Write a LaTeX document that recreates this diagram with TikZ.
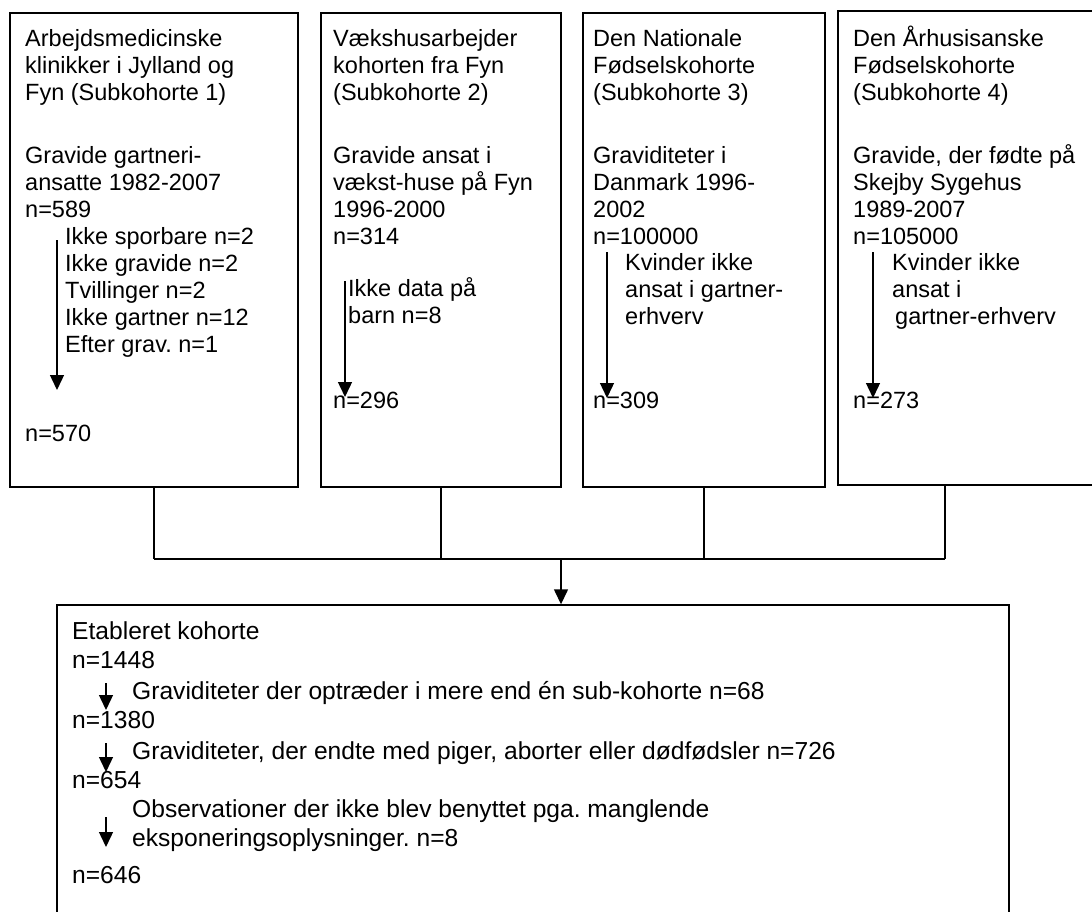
\documentclass[tikz,border=0pt]{standalone}
\usepackage{fontspec}
\setmainfont{Liberation Sans}
\usetikzlibrary{arrows.meta}
\frenchspacing
\newcommand{\topstrut}{\rule{0pt}{23pt}}
\tikzset{
  box/.style={draw, line width=1.4pt, inner sep=0pt},
  txt/.style={anchor=north west, inner sep=0pt, align=left, font=\fontsize{23.5}{27}\selectfont},
  btxt/.style={anchor=north west, inner sep=0pt, align=left, font=\fontsize{24.6}{29.5}\selectfont},
  conn/.style={line width=1.4pt},
  arr/.style={line width=1.4pt, -{Triangle[width=14pt,length=15pt]}},
}
\begin{document}
\frenchspacing
\begin{tikzpicture}[x=1pt,y=-1pt]
\useasboundingbox (0,0) rectangle (1092,912);
\clip (0,0) rectangle (1092,912);
% boxes
\node (b1) [box, minimum width=288pt, minimum height=474pt] at (154,250) {};
\node (b2) [box, minimum width=240pt, minimum height=474pt] at (441,250) {};
\node (b3) [box, minimum width=242pt, minimum height=474pt] at (704,250) {};
\node (b4) [box, minimum width=262pt, minimum height=474pt] at (969,248) {};
\node (bb) [box, minimum width=952pt, minimum height=320pt] at (533,765) {};
% box 1 text
\node (h1) [txt] at (25,23) {\topstrut Arbejdsmedicinske\\klinikker i Jylland og\\Fyn (Subkohorte 1)};
\node (g1) [txt] at (25,140) {\topstrut Gravide gartneri-\\ansatte 1982-2007\\n=589};
\node (e1) [txt] at (65,221) {\topstrut Ikke sporbare n=2\\Ikke gravide n=2\\Tvillinger n=2\\Ikke gartner n=12\\Efter grav. n=1};
\node (r1) [txt] at (25,418) {\topstrut n=570};
% box 2 text
\node (h2) [txt] at (333,23) {\topstrut Vækshusarbejder\\kohorten fra Fyn\\(Subkohorte 2)};
\node (g2) [txt] at (333,140) {\topstrut Gravide ansat i\\vækst-huse på Fyn\\1996-2000\\n=314};
\node (e2) [txt] at (348,273) {\topstrut Ikke data på\\barn n=8};
\node (r2) [txt] at (333,385) {\topstrut n=296};
% box 3 text
\node (h3) [txt] at (593,23) {\topstrut Den Nationale\\Fødselskohorte\\(Subkohorte 3)};
\node (g3) [txt] at (593,140) {\topstrut Graviditeter i\\Danmark 1996-\\2002\\n=100000};
\node (e3) [txt] at (625,247) {\topstrut Kvinder ikke\\ansat i gartner-\\erhverv};
\node (r3) [txt] at (593,385) {\topstrut n=309};
% box 4 text
\node (h4) [txt] at (853,23) {\topstrut Den Århusisanske\\Fødselskohorte\\(Subkohorte 4)};
\node (g4) [txt] at (853,140) {\topstrut Gravide, der fødte på\\Skejby Sygehus\\1989-2007\\n=105000};
\node (e4) [txt] at (892,247) {\topstrut Kvinder ikke\\ansat i\\\hspace{3pt}gartner-erhverv};
\node (r4) [txt] at (853,385) {\topstrut n=273};
% arrows inside top boxes
\coordinate (a1s) at (57,240); \coordinate (a1e) at (57,390);
\coordinate (a2s) at (345,281); \coordinate (a2e) at (345,397);
\coordinate (a3s) at (607,252); \coordinate (a3e) at (607,398);
\coordinate (a4s) at (873,252); \coordinate (a4e) at (873,398);
\draw[arr] (a1s) -- (a1e);
\draw[arr] (a2s) -- (a2e);
\draw[arr] (a3s) -- (a3e);
\draw[arr] (a4s) -- (a4e);
% connectors
\coordinate (j1) at (154,559);
\coordinate (j2) at (441,559);
\coordinate (j3) at (704,559);
\coordinate (j4) at (945,559);
\coordinate (jm) at (561,559);
\draw[conn] (b1.south) -- (j1);
\draw[conn] (b2.south) -- (j2);
\draw[conn] (b3.south) -- (j3);
\draw[conn] (b4.south -| j4) -- (j4);
\draw[conn] (j1) -- (j4);
\draw[arr] (jm) -- (jm |- bb.north);
% bottom box text
\node (t1) [btxt] at (72,616) {\topstrut Etableret kohorte\\n=1448};
\node (t2) [btxt] at (132,676) {\topstrut Graviditeter der optræder i mere end én sub-kohorte n=68};
\node (t3) [btxt] at (72,705) {\topstrut n=1380};
\node (t4) [btxt] at (132,736) {\topstrut Graviditeter, der endte med piger, aborter eller dødfødsler n=726};
\node (t5) [btxt] at (72,765) {\topstrut n=654};
\node (t6) [btxt] at (132,794) {\topstrut Observationer der ikke blev benyttet pga. manglende\\eksponeringsoplysninger. n=8};
\node (t7) [btxt] at (72,860) {\topstrut n=646};
% arrows inside bottom box
\coordinate (c1s) at (106,683); \coordinate (c1e) at (106,710);
\coordinate (c2s) at (106,743); \coordinate (c2e) at (106,772);
\coordinate (c3s) at (106,817); \coordinate (c3e) at (106,847);
\draw[arr] (c1s) -- (c1e);
\draw[arr] (c2s) -- (c2e);
\draw[arr] (c3s) -- (c3e);
\end{tikzpicture}
\end{document}
